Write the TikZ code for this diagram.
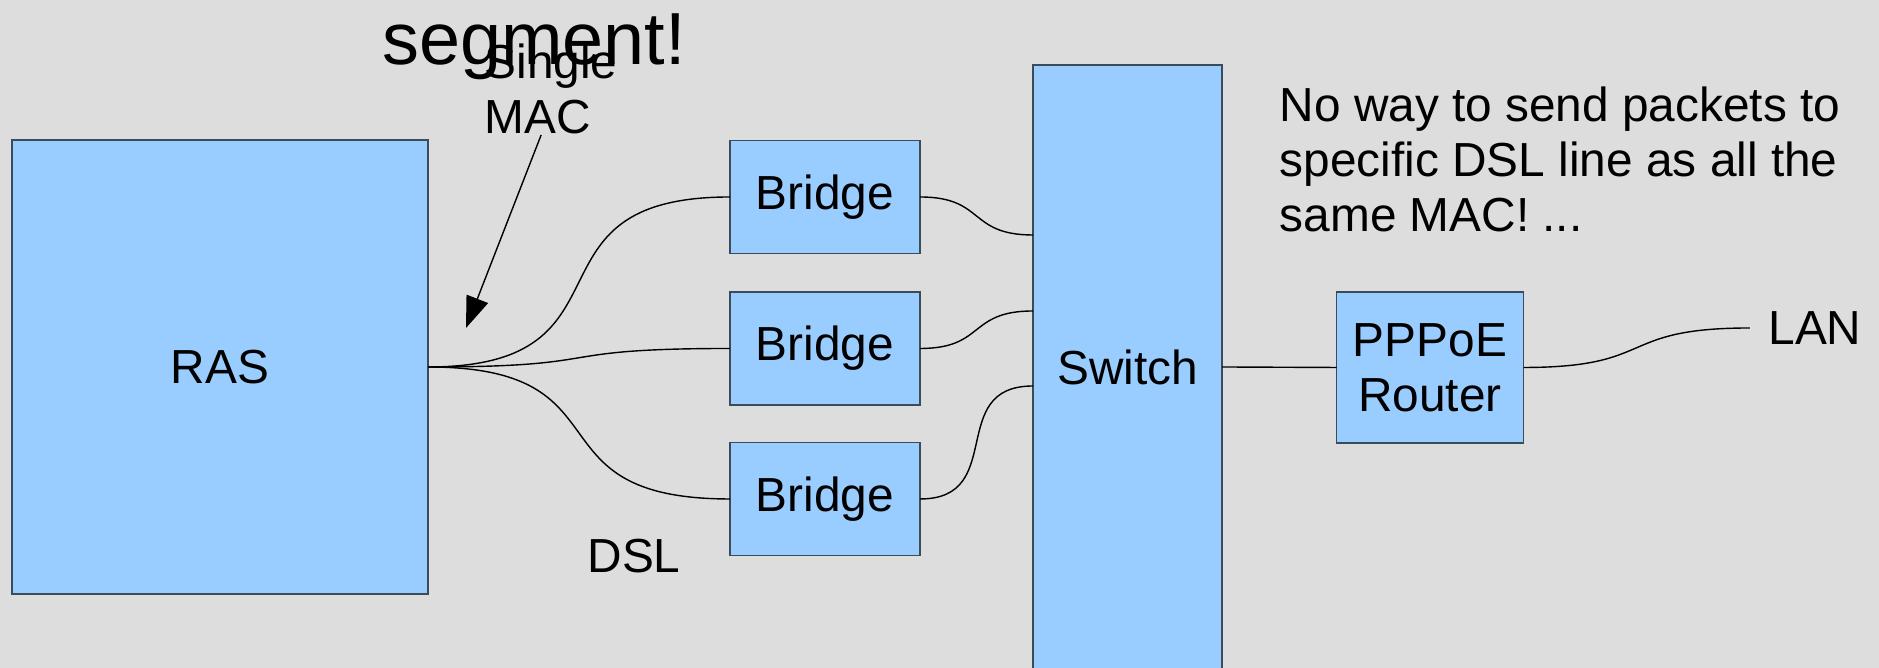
\documentclass[tikz,border=0pt]{standalone}
\usepackage{fontspec}
\setmainfont{Liberation Sans}
\usetikzlibrary{positioning,arrows.meta,calc}

\definecolor{boxfill}{RGB}{153,204,255}
\definecolor{boxline}{RGB}{60,75,90}
\definecolor{slidebg}{RGB}{221,221,221}
\newcommand{\lblfont}{\fontsize{13.6}{15.6}\selectfont}

\begin{document}
\begin{tikzpicture}[
  >={Triangle[length=8.9pt,width=6.5pt]},
  box/.style={draw=boxline,fill=boxfill,line width=0.4pt,inner sep=0pt,
              outer sep=0pt,font=\lblfont,align=center},
  bridgebox/.style={box,minimum width=1.90cm,minimum height=1.13cm},
  wire/.style={line width=0.4pt},
  curvy/.style={wire,out=0,in=180,looseness=1.6},
  note/.style={font=\lblfont,inner sep=0pt,align=center}]

% ============ background (slide) ============
\fill[slidebg] (0,0) rectangle (18.79,6.68);
\useasboundingbox (0,0) rectangle (18.79,6.68);

% ============ boxes ============
\node[box,minimum width=4.16cm,minimum height=4.54cm] (ras) at (2.20,3.01) {RAS};
\node[bridgebox] (br1) at (8.25,4.71)  {Bridge};
\node[bridgebox] (br2) at (8.25,3.195) {Bridge};
\node[bridgebox] (br3) at (8.25,1.69)  {Bridge};
\node[box,minimum width=1.89cm,minimum height=6.04cm] (sw) at (11.275,3.01) {Switch};
\node[box,minimum width=1.87cm,minimum height=1.51cm] (rt) at (14.30,3.005) {PPPoE\\Router};
\node[note,inner xsep=0.18cm] (lan) at (18.15,3.40) {LAN};

% ports on the switch
\coordinate (sw1) at ($(sw.west)+(0,1.32)$);
\coordinate (sw2) at ($(sw.west)+(0,0.56)$);
\coordinate (sw3) at ($(sw.west)+(0,-0.19)$);

% ============ DSL lines: RAS -> bridges -> switch ============
\draw (ras.east) to[curvy] (br1.west);
\draw (ras.east) to[curvy] (br2.west);
\draw (ras.east) to[curvy] (br3.west);
\draw (br1.east) to[curvy,looseness=1.4] (sw1);
\draw (br2.east) to[curvy,looseness=1.4] (sw2);
\draw (br3.east) to[curvy,looseness=1.4] (sw3);

% ============ switch -> router -> LAN ============
\draw[wire] (sw.east) -- (rt.west);
\draw (rt.east) to[curvy,looseness=1.5] (lan.west);

% ============ labels ============
\node[note,anchor=base] (seg) at (5.34,6.03) {\fontsize{21}{25}\selectfont segment!};
\node[note,align=left,anchor=south west] (mac) at (4.84,5.33) {Single\\MAC};
\coordinate (mactip) at (4.66,3.40);
\draw[wire,->] ($(mac.south)+(-0.10,0)$) -- (mactip);
\node[note] (dsl) at (6.34,1.12) {DSL};
\node[note,align=left,anchor=north west] (why) at (12.79,5.815)
  {No way to send packets to\\specific DSL line as all the\\same MAC! ...};

\end{tikzpicture}
\end{document}
